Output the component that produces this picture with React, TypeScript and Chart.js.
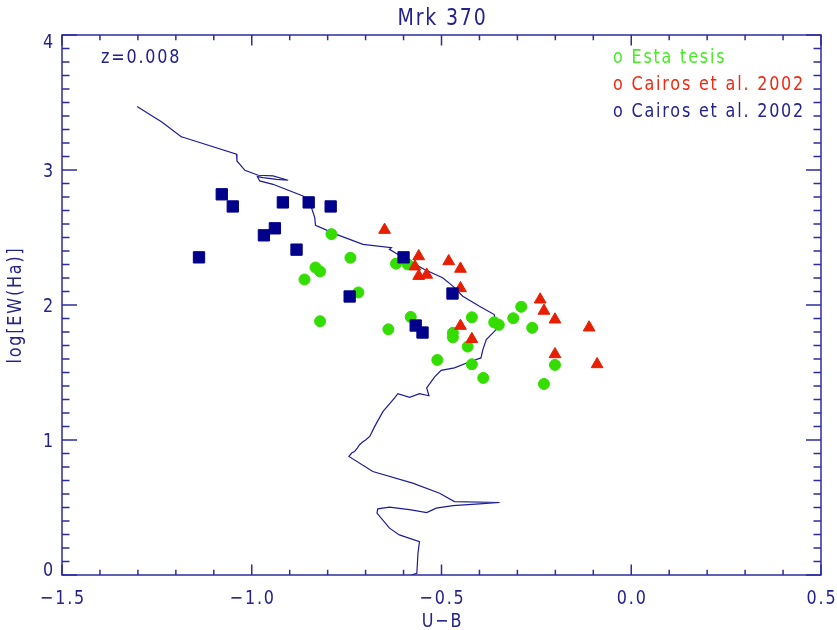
import React, { useEffect, useRef } from 'react';
import { Chart, registerables } from 'chart.js';

Chart.register(...registerables);

// ---- Data ----
const titleText = 'Mrk 370';
const redshiftLabel = 'z=0.008';
const xAxisTitle = 'U\u2212B';
const yAxisTitle = 'log[EW(Ha)]';
const legendLabels = ['o Esta tesis', 'o Cairos et al. 2002', 'o Cairos et al. 2002'];

const xTickValues = [-1.5, -1.0, -0.5, 0.0, 0.5];
const xTickLabels = ['\u22121.5', '\u22121.0', '\u22120.5', '0.0', '0.5'];
const yTickValues = [0, 1, 2, 3, 4];
const yTickLabels = ['0', '1', '2', '3', '4'];

// Esta tesis (green circles)
const greenX = [-0.79, -0.74, -0.832, -0.82, -0.861, -0.719, -0.82, -0.64, -0.62, -0.589, -0.581, -0.47, -0.47, -0.42, -0.431, -0.511, -0.42, -0.39, -0.361, -0.349, -0.311, -0.29, -0.261, -0.201, -0.23];
const greenY = [2.525, 2.35, 2.278, 2.249, 2.189, 2.093, 1.88, 1.82, 2.306, 2.301, 1.912, 1.794, 1.761, 1.909, 1.692, 1.593, 1.561, 1.46, 1.872, 1.853, 1.902, 1.987, 1.831, 1.556, 1.415];

// Cairos et al. 2002 (red triangles)
const redX = [-0.65, -0.56, -0.57, -0.56, -0.539, -0.481, -0.45, -0.45, -0.45, -0.42, -0.24, -0.23, -0.201, -0.111, -0.201, -0.09];
const redY = [2.556, 2.361, 2.285, 2.215, 2.224, 2.324, 2.268, 2.124, 1.845, 1.747, 2.04, 1.957, 1.892, 1.833, 1.635, 1.561];

// Cairos et al. 2002 (blue squares)
const blueX = [-1.139, -1.079, -1.05, -0.968, -0.939, -0.918, -0.882, -0.85, -0.792, -0.742, -0.6, -0.568, -0.55, -0.471];
const blueY = [2.353, 2.82, 2.73, 2.516, 2.568, 2.76, 2.41, 2.76, 2.73, 2.063, 2.353, 1.848, 1.796, 2.085];

// Model track (line)
const trackX = [-1.302, -1.277, -1.238, -1.185, -1.179, -1.04, -1.039, -1.018, -0.983, -0.944, -0.904, -0.935, -0.97, -0.985, -0.979, -0.944, -0.865, -0.847, -0.834, -0.832, -0.777, -0.707, -0.632, -0.637, -0.619, -0.584, -0.545, -0.497, -0.47, -0.444, -0.4, -0.361, -0.356, -0.382, -0.391, -0.396, -0.422, -0.466, -0.501, -0.518, -0.539, -0.533, -0.558, -0.584, -0.615, -0.624, -0.654, -0.676, -0.689, -0.7, -0.708, -0.716, -0.722, -0.729, -0.736, -0.744, -0.681, -0.576, -0.505, -0.466, -0.347, -0.4, -0.47, -0.514, -0.539, -0.58, -0.637, -0.668, -0.67, -0.637, -0.611, -0.558, -0.562, -0.565, -0.58];
const trackY = [3.471, 3.426, 3.357, 3.245, 3.241, 3.117, 3.067, 2.998, 2.961, 2.956, 2.924, 2.931, 2.944, 2.951, 2.919, 2.894, 2.807, 2.758, 2.647, 2.59, 2.523, 2.449, 2.424, 2.412, 2.382, 2.325, 2.263, 2.202, 2.14, 2.065, 1.991, 1.929, 1.818, 1.744, 1.67, 1.608, 1.583, 1.534, 1.516, 1.467, 1.386, 1.328, 1.343, 1.316, 1.343, 1.311, 1.212, 1.101, 1.026, 1.0, 0.985, 0.965, 0.94, 0.915, 0.905, 0.878, 0.767, 0.681, 0.606, 0.544, 0.537, 0.527, 0.514, 0.495, 0.462, 0.482, 0.502, 0.49, 0.458, 0.347, 0.297, 0.247, 0.161, 0.013, 0.0];

// ---- Styles ----
const NAVY = '#23238e';
const AXIS = '#2c2ca2';
const SQUARE = '#00008b';
const TRACK = '#1c1c98';
const GREEN = '#33dd00';
const RED = '#e81e00';
const LEGEND_GREEN = '#44ee22';
const LEGEND_RED = '#ee2a10';
const FONT = '"DejaVu Sans", "Liberation Sans", sans-serif';
const STRETCH = 1.2;

function toPoints(xs: number[], ys: number[]) {
  return xs.map((x, i) => ({ x, y: ys[i] }));
}

function drawText(ctx: CanvasRenderingContext2D, text: string, x: number, y: number, align: CanvasTextAlign, size: number, color: string, rot = 0) {
  ctx.save();
  ctx.translate(x, y);
  if (rot) ctx.rotate(rot);
  ctx.scale(1, STRETCH);
  ctx.font = `${size}px ${FONT}`;
  (ctx as any).letterSpacing = '1.8px';
  ctx.fillStyle = color;
  ctx.textAlign = align;
  ctx.textBaseline = 'alphabetic';
  ctx.fillText(text, 0, 0);
  ctx.restore();
}

const framePlugin = {
  id: 'idlFrame',
  afterDraw(chart: any) {
    const { ctx, chartArea: a, scales } = chart;
    const xs = scales.x;
    const ys = scales.y;
    ctx.save();
    ctx.strokeStyle = AXIS;
    ctx.lineWidth = 1.5;
    ctx.strokeRect(a.left, a.top, a.right - a.left, a.bottom - a.top);
    ctx.beginPath();
    for (let i = 0; i <= 20; i++) {
      const v = -1.5 + i * 0.1;
      const px = xs.getPixelForValue(v);
      const len = i % 5 === 0 ? 10.5 : 5.2;
      ctx.moveTo(px, a.bottom);
      ctx.lineTo(px, a.bottom - len);
      ctx.moveTo(px, a.top);
      ctx.lineTo(px, a.top + len);
    }
    for (let i = 0; i <= 40; i++) {
      const v = i * 0.1;
      const py = ys.getPixelForValue(v);
      const len = i % 10 === 0 ? 15 : 7.5;
      ctx.moveTo(a.left, py);
      ctx.lineTo(a.left + len, py);
      ctx.moveTo(a.right, py);
      ctx.lineTo(a.right - len, py);
    }
    ctx.stroke();
    ctx.restore();

    // tick labels
    xTickValues.forEach((v, i) => {
      drawText(ctx, xTickLabels[i], xs.getPixelForValue(v) + 1, a.bottom + 29, 'center', 16, NAVY);
    });
    yTickValues.forEach((v, i) => {
      let shift = 7;
      if (i === 0) shift = 1;
      if (i === yTickValues.length - 1) shift = 13;
      drawText(ctx, yTickLabels[i], a.left - 7, ys.getPixelForValue(v) + shift, 'right', 16, NAVY);
    });

    const cx = (a.left + a.right) / 2;
    drawText(ctx, titleText, cx + 1, 25, 'center', 19, NAVY);
    drawText(ctx, xAxisTitle, cx + 1, 627, 'center', 16, NAVY);
    drawText(ctx, yAxisTitle, 21, (a.top + a.bottom) / 2, 'center', 16, NAVY, -Math.PI / 2);
    drawText(ctx, redshiftLabel, a.left + 39, 63, 'left', 16, NAVY);

    const legendColors = [LEGEND_GREEN, LEGEND_RED, NAVY];
    legendLabels.forEach((t, i) => {
      drawText(ctx, t, 613, 63 + i * 27, 'left', 16, legendColors[i]);
    });
  },
};

export default function App() {
  const canvasRef = useRef<HTMLCanvasElement | null>(null);

  useEffect(() => {
    const canvas = canvasRef.current;
    if (!canvas) return;
    const chart = new Chart(canvas, {
      type: 'scatter',
      data: {
        datasets: [
          {
            type: 'line',
            label: 'track',
            data: toPoints(trackX, trackY),
            borderColor: TRACK,
            borderWidth: 1.2,
            pointRadius: 0,
            fill: false,
            tension: 0,
            showLine: true,
            order: 4,
          } as any,
          {
            label: 'Esta tesis',
            data: toPoints(greenX, greenY),
            pointStyle: 'circle',
            pointRadius: 5.5,
            borderWidth: 1,
            backgroundColor: GREEN,
            borderColor: GREEN,
            order: 3,
          },
          {
            label: 'Cairos et al. 2002 (red)',
            data: toPoints(redX, redY),
            pointStyle: 'triangle',
            pointRadius: 6.8,
            borderWidth: 1,
            backgroundColor: RED,
            borderColor: RED,
            order: 2,
          },
          {
            label: 'Cairos et al. 2002 (blue)',
            data: toPoints(blueX, blueY),
            pointStyle: 'rect',
            pointRadius: 8,
            borderWidth: 1,
            backgroundColor: SQUARE,
            borderColor: SQUARE,
            order: 1,
          },
        ],
      },
      options: {
        animation: false,
        responsive: false,
        devicePixelRatio: 1,
        layout: { padding: { top: 35, right: 16, left: 0, bottom: 0 } },
        plugins: {
          legend: { display: false },
          tooltip: { enabled: false },
          title: { display: false },
        },
        scales: {
          x: {
            type: 'linear',
            min: -1.5,
            max: 0.5,
            ticks: { display: false },
            grid: { display: false },
            border: { display: false },
            afterFit: (s: any) => { s.height = 55; },
          },
          y: {
            type: 'linear',
            min: 0,
            max: 4,
            ticks: { display: false },
            grid: { display: false },
            border: { display: false },
            afterFit: (s: any) => { s.width = 62; },
          },
        },
      } as any,
      plugins: [framePlugin],
    });
    return () => chart.destroy();
  }, []);

  return (
    <div style={{ position: 'absolute', left: 0, top: 0, width: 837, height: 630, background: '#fff' }}>
      <canvas ref={canvasRef} width={837} height={630} />
    </div>
  );
}
